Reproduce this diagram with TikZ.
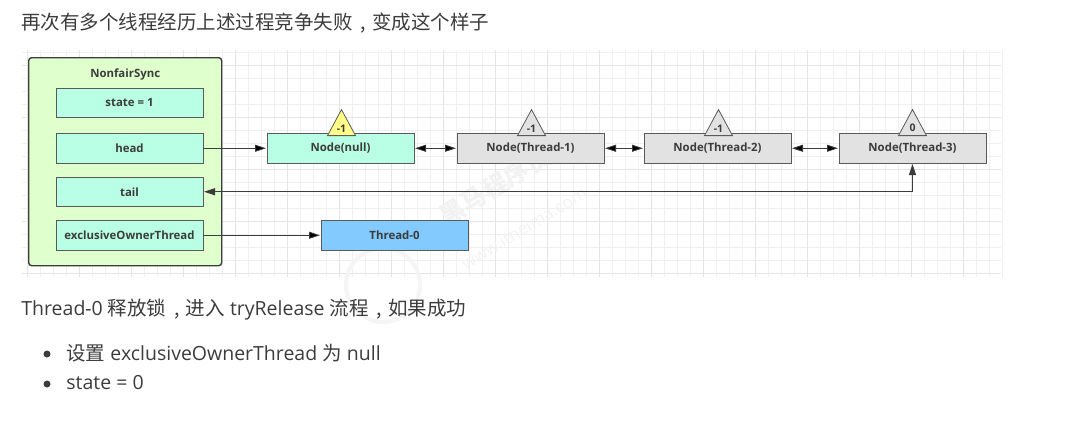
\documentclass[tikz,border=0pt]{standalone}
\usepackage{fontspec}
\setmainfont{Open Sans}
\newfontfamily\cjk{Noto Sans CJK SC}
\newcommand\wcomma{\makebox[1em][c]{\hspace{0.1em},}}
\usetikzlibrary{arrows.meta}
\usetikzlibrary{positioning}
\usetikzlibrary{shapes.geometric}
\definecolor{mint}{HTML}{B9FFE5}
\definecolor{panelgreen}{HTML}{DFFFCC}
\definecolor{nodegray}{HTML}{E2E2E2}
\definecolor{threadblue}{HTML}{82CAFF}
\definecolor{signalyellow}{HTML}{FFFF88}
\definecolor{edgegray}{HTML}{5A5A5A}
\definecolor{inkgray}{HTML}{3C3C3C}
\begin{document}
\begin{tikzpicture}[x=1pt,y=-1pt,line width=0.8pt,
  arrow/.style={draw=inkgray,shorten >=1pt,shorten <=1pt,{Triangle[length=11pt,width=7pt]}-{Triangle[length=11pt,width=7pt]}},
  single arrow/.style={draw=inkgray,-{Triangle[length=11pt,width=7pt]},shorten >=1pt},
  field/.style={draw=edgegray,fill=mint,minimum width=147pt,minimum height=29.5pt,inner sep=0pt,outer sep=0pt,text=inkgray,font=\fontsize{11.4}{13}\selectfont\bfseries},
  queue node/.style={field,fill=nodegray},
  signal/.style={isosceles triangle,isosceles triangle apex angle=57,shape border rotate=90,isosceles triangle stretches,draw=edgegray,fill=nodegray,minimum width=28pt,minimum height=26pt,inner sep=0pt,text=inkgray,font=\fontsize{10.5}{12}\selectfont\bfseries},
  body text/.style={anchor=west,inner sep=0pt,text=inkgray,font=\fontsize{19.5}{22}\selectfont},
  watermark/.style={inner sep=0pt,text=black!5}]
  \useasboundingbox (0,0) rectangle (1080,423);
  \foreach \x in {0,...,75} \draw[draw=black!6,line width=0.6pt] (27+13*\x,50) -- (27+13*\x,277);
  \foreach \y in {0,...,17} \draw[draw=black!6,line width=0.6pt] (22,52+13*\y) -- (1001,52+13*\y);
  \foreach \x in {0,...,18} \draw[draw=black!10,line width=0.8pt] (27+52*\x,50) -- (27+52*\x,277);
  \foreach \y in {0,...,4} \draw[draw=black!10,line width=0.8pt] (22,65+52*\y) -- (1001,65+52*\y);
  \node[watermark,circle,draw=black!4,line width=4pt,minimum size=74pt] (logo) at (383,285) {};
  \node[watermark,rotate=31,font=\cjk\fontsize{25}{27}\selectfont\bfseries] (markcn) at (495,186) {黑马程序员};
  \node[watermark,rotate=31,font=\fontsize{17}{19}\selectfont] (markurl) at (524,228) {www.itheima.com};
  \node[body text] (title) at (21,23) {\cjk 再次有多个线程经历上述过程竞争失败\wcomma 变成这个样子};
  \node[anchor=north west,draw=inkgray,line width=1.4pt,fill=panelgreen,rounded corners=3pt,minimum width=193pt,minimum height=208pt,inner sep=0pt] (sync) at (28,57) {};
  \node[below=8pt of sync.north,text=inkgray,font=\fontsize{11.4}{13}\selectfont\bfseries] (syncname) {NonfairSync};
  \node[field,anchor=north west] (state) at (56,88) {state = 1};
  \node[field] (head) [below=16pt of state] {head};
  \node[field] (tail) [below=14pt of head] {tail};
  \node[field] (owner) [below=14pt of tail] {exclusiveOwnerThread};
  \node[field] (null) [right=64pt of head] {Node(null)};
  \node[queue node] (t1) [right=43pt of null] {Node(Thread-1)};
  \node[queue node] (t2) [right=40pt of t1] {Node(Thread-2)};
  \node[queue node] (t3) [right=48pt of t2] {Node(Thread-3)};
  \node[field,fill=threadblue] (t0) [right=118pt of owner] {Thread-0};
  \node[signal,fill=signalyellow] (snull) [above=-2.5pt of null,xshift=1pt] {-1};
  \node[signal] (s1) [above=-2.5pt of t1,xshift=1pt] {-1};
  \node[signal] (s2) [above=-2.5pt of t2,xshift=1pt] {-1};
  \node[signal] (s3) [above=-2.5pt of t3,xshift=0pt] {0};
  \path[single arrow] (head) edge (null);
  \path[single arrow] (owner) edge (t0);
  \path[arrow] (null) edge (t1);
  \path[arrow] (t1) edge (t2);
  \path[arrow] (t2) edge (t3);
  \draw[arrow] (tail) -| (t3);
  \node[body text] (release) at (21,310) {Thread-0 {\cjk 释放锁\wcomma 进入} tryRelease {\cjk 流程\wcomma 如果成功}};
  \node[circle,fill=inkgray,minimum size=7pt,inner sep=0pt] (dot1) at (47,354) {};
  \node[circle,fill=inkgray,minimum size=7pt,inner sep=0pt] (dot2) at (47,384) {};
  \node[body text] (item1) at (66,353) {{\cjk 设置} exclusiveOwnerThread {\cjk 为} null};
  \node[body text] (item2) at (66,383) {state = 0};
\end{tikzpicture}
\end{document}
